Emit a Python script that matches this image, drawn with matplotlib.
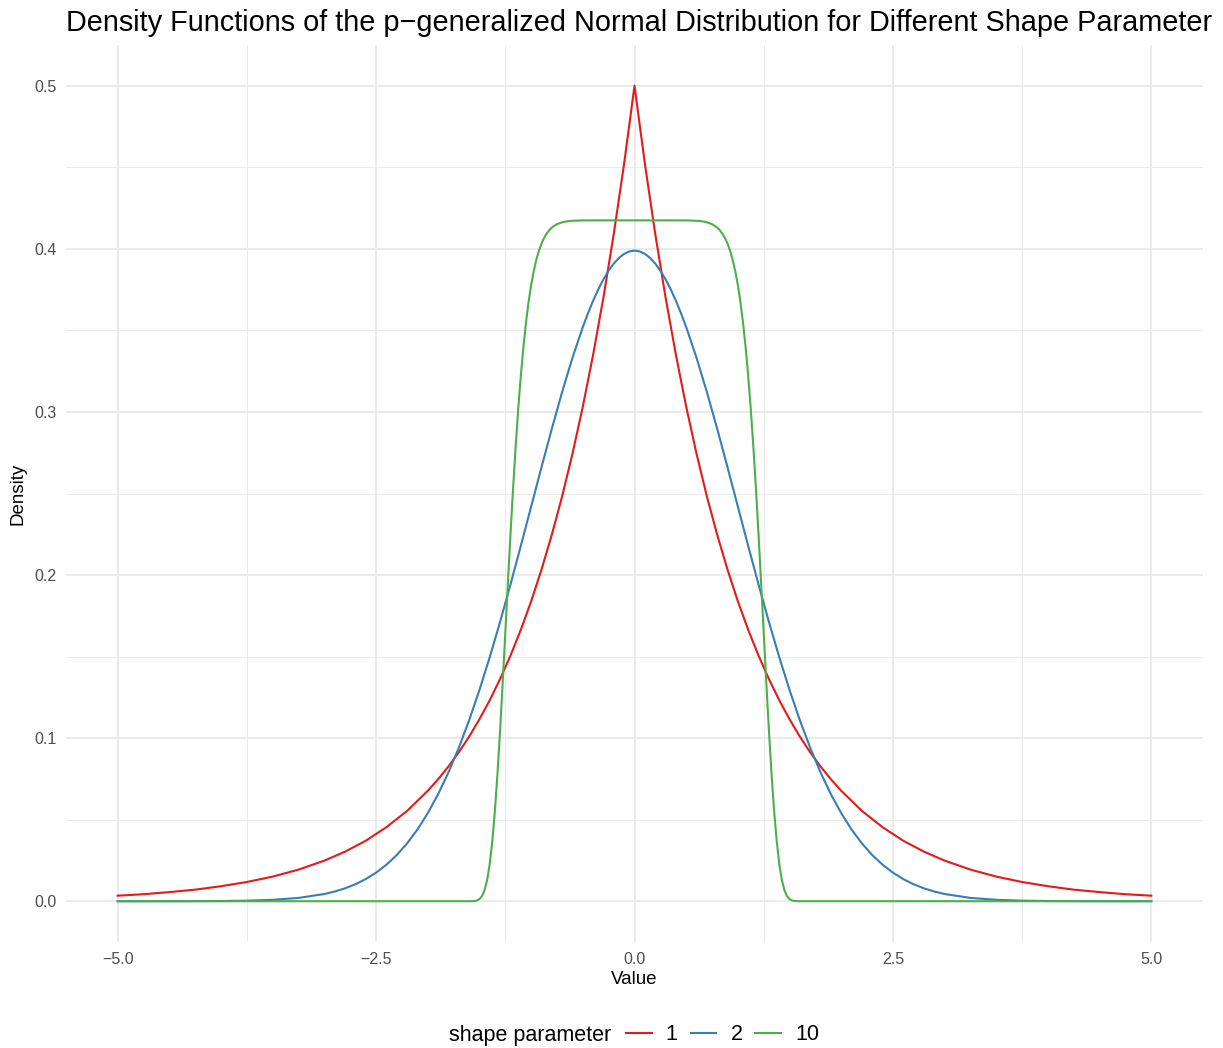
import matplotlib
matplotlib.use("Agg")
import matplotlib.pyplot as plt
from matplotlib.lines import Line2D

# values
x_p1 = [-5.0, -4.75, -4.5, -4.25, -4.0, -3.75, -3.5, -3.25, -3.0, -2.8, -2.6, -2.4, -2.2,
        -2.0, -1.9, -1.8, -1.7, -1.6, -1.5, -1.4, -1.3, -1.2, -1.1, -1.0, -0.9, -0.8, -0.7,
        -0.6, -0.5, -0.4, -0.3, -0.2, -0.1, 0.0, 0.1, 0.2, 0.3, 0.4, 0.5, 0.6, 0.7, 0.8, 0.9,
        1.0, 1.1, 1.2, 1.3, 1.4, 1.5, 1.6, 1.7, 1.8, 1.9, 2.0, 2.2, 2.4, 2.6, 2.8, 3.0, 3.25,
        3.5, 3.75, 4.0, 4.25, 4.5, 4.75, 5.0]
y_p1 = [0.0034, 0.0043, 0.0056, 0.0071, 0.0092, 0.0118, 0.0151, 0.0194, 0.0249, 0.0304, 0.0371,
        0.0454, 0.0554, 0.0677, 0.0748, 0.0826, 0.0913, 0.1009, 0.1116, 0.1233, 0.1363, 0.1506,
        0.1664, 0.1839, 0.2033, 0.2247, 0.2483, 0.2744, 0.3033, 0.3352, 0.3704, 0.4094, 0.4524,
        0.5000, 0.4524, 0.4094, 0.3704, 0.3352, 0.3033, 0.2744, 0.2483, 0.2247, 0.2033, 0.1839,
        0.1664, 0.1506, 0.1363, 0.1233, 0.1116, 0.1009, 0.0913, 0.0826, 0.0748, 0.0677, 0.0554,
        0.0454, 0.0371, 0.0304, 0.0249, 0.0194, 0.0151, 0.0118, 0.0092, 0.0071, 0.0056, 0.0043,
        0.0034]

x_p2 = [-5.0, -4.5, -4.25, -4.0, -3.75, -3.5, -3.25, -3.0, -2.9, -2.8, -2.7, -2.6, -2.5, -2.4,
        -2.3, -2.2, -2.1, -2.0, -1.9, -1.8, -1.7, -1.6, -1.5, -1.4, -1.3, -1.2, -1.1, -1.0,
        -0.9, -0.8, -0.7, -0.6, -0.5, -0.45, -0.4, -0.35, -0.3, -0.25, -0.2, -0.15, -0.1, -0.05,
        0.0, 0.05, 0.1, 0.15, 0.2, 0.25, 0.3, 0.35, 0.4, 0.45, 0.5,
        0.6, 0.7, 0.8, 0.9, 1.0, 1.1, 1.2, 1.3, 1.4, 1.5, 1.6, 1.7, 1.8, 1.9, 2.0, 2.1, 2.2,
        2.3, 2.4, 2.5, 2.6, 2.7, 2.8, 2.9, 3.0, 3.25, 3.5, 3.75, 4.0, 4.25, 4.5, 5.0]
y_p2 = [0.0, 0.00002, 0.00005, 0.00013, 0.00035, 0.00087, 0.00203, 0.00443, 0.00595, 0.00792,
        0.01042, 0.01358, 0.01753, 0.02239, 0.02833, 0.03547, 0.04398, 0.05399, 0.06562, 0.07895,
        0.09405, 0.11092, 0.12952, 0.14973, 0.17137, 0.19419, 0.21785, 0.24197, 0.26609, 0.28969,
        0.31225, 0.33322, 0.35207, 0.36053, 0.36827, 0.37524, 0.38139, 0.38667, 0.39104, 0.39448,
        0.39695, 0.39844, 0.39894, 0.39844, 0.39695, 0.39448, 0.39104, 0.38667, 0.38139, 0.37524,
        0.36827, 0.36053, 0.35207,
        0.33322, 0.31225, 0.28969, 0.26609, 0.24197, 0.21785, 0.19419,
        0.17137, 0.14973, 0.12952, 0.11092, 0.09405, 0.07895, 0.06562, 0.05399, 0.04398, 0.03547,
        0.02833, 0.02239, 0.01753, 0.01358, 0.01042, 0.00792, 0.00595, 0.00443, 0.00203, 0.00087,
        0.00035, 0.00013, 0.00005, 0.00002, 0.0]

x_p10 = [-5.0, -1.6, -1.575, -1.55, -1.525, -1.5, -1.475, -1.45, -1.425, -1.4, -1.375, -1.35,
         -1.325, -1.3, -1.275, -1.25, -1.225, -1.2, -1.175, -1.15, -1.125, -1.1, -1.075, -1.05,
         -1.025, -1.0, -0.975, -0.95, -0.925, -0.9, -0.875, -0.85, -0.825, -0.8, -0.775, -0.75,
         -0.7, -0.65, -0.6, -0.5, -0.25, 0.0, 0.25, 0.5, 0.6, 0.65, 0.7, 0.75, 0.775, 0.8, 0.825,
         0.85, 0.875, 0.9, 0.925, 0.95, 0.975, 1.0, 1.025, 1.05, 1.075, 1.1, 1.125, 1.15, 1.175,
         1.2, 1.225, 1.25, 1.275, 1.3, 1.325, 1.35, 1.375, 1.4, 1.425, 1.45, 1.475, 1.5, 1.525,
         1.55, 1.575, 1.6, 5.0]
y_p10 = [0.0, 0.0, 0.00003, 0.00014, 0.00046, 0.00131, 0.00319, 0.00686, 0.01322, 0.02314,
         0.03729, 0.05590, 0.07876, 0.10518, 0.13415, 0.16450, 0.19505, 0.22477, 0.25280, 0.27857,
         0.30172, 0.32210, 0.33972, 0.35473, 0.36732, 0.37775, 0.38630, 0.39322, 0.39877, 0.40317,
         0.40664, 0.40934, 0.41143, 0.41302, 0.41423, 0.41513, 0.41630, 0.41692, 0.41723, 0.41744,
         0.41748, 0.41748, 0.41748, 0.41744, 0.41723, 0.41692, 0.41630, 0.41513, 0.41423, 0.41302,
         0.41143, 0.40934, 0.40664, 0.40317, 0.39877, 0.39322, 0.38630, 0.37775, 0.36732, 0.35473,
         0.33972, 0.32210, 0.30172, 0.27857, 0.25280, 0.22477, 0.19505, 0.16450, 0.13415, 0.10518,
         0.07876, 0.05590, 0.03729, 0.02314, 0.01322, 0.00686, 0.00319, 0.00131, 0.00046, 0.00014,
         0.00003, 0.0, 0.0]

labels = ["1", "2", "10"]
colors = ["#E41A1C", "#377EB8", "#4DAF4A"]

plt.rcParams["font.family"] = ["Liberation Sans", "DejaVu Sans"]
W, H = 1223, 1048
fig = plt.figure(figsize=(W / 100, H / 100), dpi=100)
ax = fig.add_axes([66 / W, 1 - 942 / H, (1203 - 66) / W, (942 - 45) / H])

for xs, ys, c in zip([x_p1, x_p2, x_p10], [y_p1, y_p2, y_p10], colors):
    ax.plot(xs, ys, color=c, lw=1.5, solid_joinstyle="round", zorder=3)

ax.set_xlim(-5.5, 5.5)
ax.set_ylim(-0.025, 0.525)
ax.set_xticks([-5, -2.5, 0, 2.5, 5])
ax.set_xticklabels(["\u22125.0", "\u22122.5", "0.0", "2.5", "5.0"])
ax.set_xticks([-3.75, -1.25, 1.25, 3.75], minor=True)
ax.set_yticks([0, 0.1, 0.2, 0.3, 0.4, 0.5])
ax.set_yticklabels(["0.0", "0.1", "0.2", "0.3", "0.4", "0.5"])
ax.set_yticks([0.05, 0.15, 0.25, 0.35, 0.45], minor=True)
ax.grid(which="major", color="#EBEBEB", lw=1.4)
ax.grid(which="minor", color="#EBEBEB", lw=0.7)
ax.set_axisbelow(True)
for s in ax.spines.values():
    s.set_visible(False)
ax.tick_params(which="both", length=0)
ax.tick_params(axis="x", labelsize=11.5, labelcolor="#4D4D4D", pad=7)
ax.tick_params(axis="y", labelsize=11.5, labelcolor="#4D4D4D", pad=7)

ax.set_xlabel("Value", fontsize=13.5, labelpad=3)
ax.set_ylabel("Density", fontsize=13.5, labelpad=5)

fig.text(66 / W, 1 - 31 / H, "Density Functions of the p\u2212generalized Normal Distribution for Different Shape Parameter",
         fontsize=20.75, ha="left", va="baseline")

# legend: title on the left, keys in one row
fig.text(611 / W, 1 - 1035 / H, "shape parameter", fontsize=15.5, ha="right", va="center")
handles = [Line2D([], [], color=c, lw=1.5) for c in colors]
fig.legend(handles, labels, loc="center left", bbox_to_anchor=(626 / W, 1 - 1035 / H),
           ncol=3, frameon=False, fontsize=15.5, handlelength=1.2, handletextpad=0.65,
           columnspacing=0.6, borderpad=0, borderaxespad=0)

fig.savefig("out.png", dpi=100)
